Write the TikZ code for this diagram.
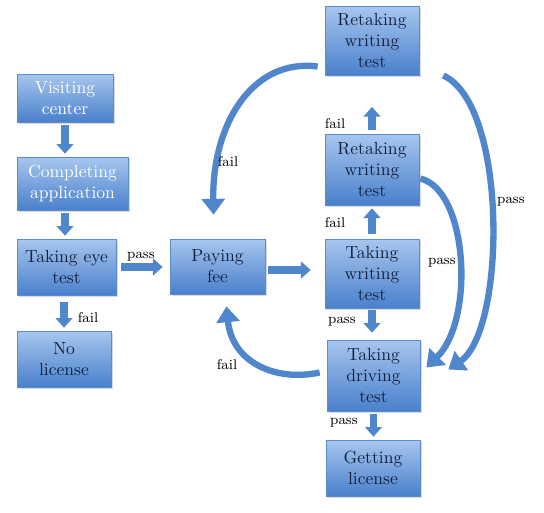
\documentclass[tikz,border=0pt]{standalone}
\usepackage{xcolor}
\usepackage{tikz}
\usetikzlibrary{arrows.meta, positioning, shadows, calc}
\definecolor{boxtop}{HTML}{A6C6EE}
\definecolor{boxbot}{HTML}{4A80CC}
\definecolor{boxline}{HTML}{5B8BD0}
\definecolor{boxtext}{HTML}{14213F}
\definecolor{arrowblue}{HTML}{4F86CC}

\begin{document}
\begin{tikzpicture}[x=0.02cm, y=-0.02cm,
  stage/.style={draw=boxline, line width=0.4pt, top color=boxtop, bottom color=boxbot,
    align=center, inner sep=0pt, text=boxtext, font=\normalsize,
    drop shadow={shadow xshift=1.2pt, shadow yshift=-1.2pt, opacity=0.3}},
  flow/.style={draw=arrowblue, line width=4.5pt, -{Triangle[width=9.5pt,length=5.5pt]},
    shorten <=1.7pt, shorten >=1.7pt},
  backflow/.style={draw=arrowblue, line width=3.6pt, -{Triangle[width=13pt,length=9pt]}},
  tag/.style={font=\footnotesize, text=black, inner sep=1pt}]
\useasboundingbox (0,0) rectangle (544,512);
% Left column
\node[stage, minimum width=1.92cm, minimum height=0.96cm, text=white] (visit) at (65,98) {Visiting\\center};
\node[stage, minimum width=2.22cm, minimum height=1.06cm, text=white] (comp) at (72.5,183.5) {Completing\\application};
\node[stage, minimum width=1.98cm, minimum height=1.12cm] (eye) at (66.5,267) {Taking eye\\test};
\node[stage, minimum width=1.88cm, minimum height=1.12cm] (nolic) at (64,359) {No\\license};
% Middle
\node[stage, minimum width=1.9cm, minimum height=1.1cm] (pay) at (217.5,266.5) {Paying\\fee};
% Right column
\node[stage, minimum width=1.88cm, minimum height=1.38cm] (retop) at (372,40.5) {Retaking\\writing\\test};
\node[stage, minimum width=1.88cm, minimum height=1.42cm] (remid) at (372,169.5) {Retaking\\writing\\test};
\node[stage, minimum width=1.88cm, minimum height=1.38cm] (tw) at (372,273.5) {Taking\\writing\\test};
\node[stage, minimum width=1.86cm, minimum height=1.42cm] (drive) at (373.5,375.5) {Taking\\driving\\test};
\node[stage, minimum width=1.88cm, minimum height=1.12cm] (getlic) at (373,468) {Getting\\license};

% Straight arrows
\draw[flow] (visit.south) -- (visit.south |- comp.north);
\draw[flow] (visit.south |- comp.south) -- (visit.south |- eye.north);
\draw[flow, shorten <=3.8pt] (nolic.north |- eye.south) -- (nolic.north);
\draw[flow, shorten <=2.8pt, shorten >=4pt] (eye.east) -- (eye.east -| pay.west);
\draw[flow, shorten >=8pt] ([yshift=-2pt]pay.east) -- ([yshift=-2pt]pay.east -| tw.west);
\draw[flow, shorten <=2.8pt] (tw.north) -- (remid.south);
\draw[flow, shorten <=2.3pt, shorten >=18pt] (remid.north) -- (retop.south);
\draw[flow, shorten <=1.1pt, shorten >=4pt] (tw.south) -- (tw.south |- drive.north);
\draw[flow] (drive.south) -- (drive.south |- getlic.north);

% Curved arrows
\draw[backflow] ($(retop.west)+(-7,26)$) .. controls (252,58) and (212,125) .. ($(pay.north)+(-4,-24)$);
\draw[backflow] ($(drive.west)+(-7,-3)$) .. controls (275,382) and (232,362) .. ($(pay.south)+(9,12)$);
\draw[backflow] ($(remid.east)+(1,9)$) .. controls (468,190) and (475,320) .. ($(drive.east)+(6,-8)$);
\draw[backflow] ($(retop.east)+(24,35)$) .. controls (508,105) and (506,330) .. ($(drive.east)+(28,-6)$);

% Labels
\node[tag] (passeye) at (141,257) {pass};
\node[tag] (faileye) at (88,318) {fail};
\node[tag] (failtop) at (228,162) {fail};
\node[tag] (failback) at (227,365) {fail};
\node[tag] (failup) at (335,124) {fail};
\node[tag] (failmid) at (335,223) {fail};
\node[tag] (passtw) at (342,322) {pass};
\node[tag] (passdrive) at (344,423) {pass};
\node[tag] (passmid) at (442,263) {pass};
\node[tag] (passtop) at (511,202) {pass};
\end{tikzpicture}
\end{document}
